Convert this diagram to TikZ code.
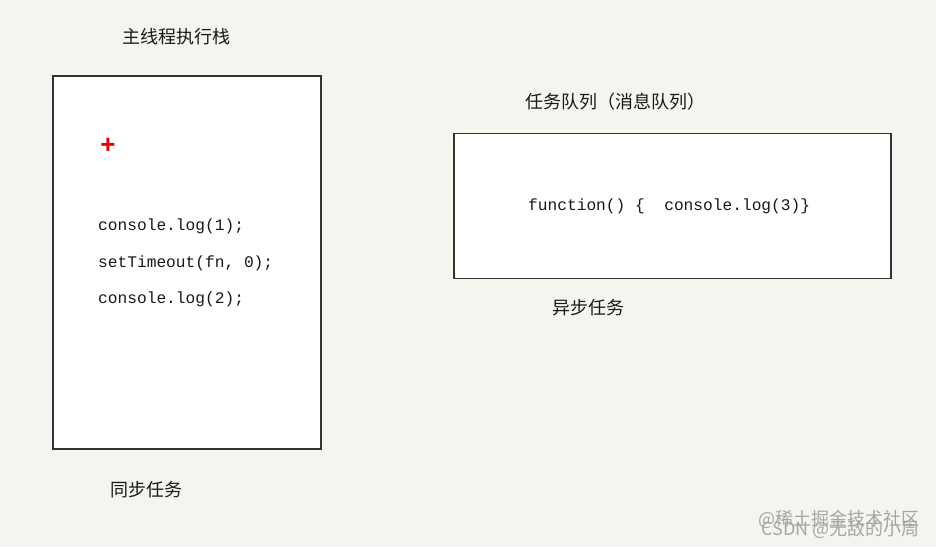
\documentclass[tikz,border=0pt]{standalone}
\usepackage{fontspec}
\setmonofont{Liberation Mono}
\newfontfamily\cjk{Noto Sans CJK SC}
\newfontfamily\plusfont{Liberation Sans}
\usetikzlibrary{positioning}

\definecolor{paper}{HTML}{F5F4EF}
\definecolor{frame}{HTML}{333333}

\begin{document}
\begin{tikzpicture}[
  x=1pt, y=-1pt,
  box/.style={draw=frame, fill=white, line width=1.4pt, inner sep=0pt},
  label/.style={font=\cjk\fontsize{18}{20}\selectfont, text=black!90, inner sep=0pt},
  code/.style={font=\ttfamily\fontsize{16.2}{19}\selectfont, text=black!90, inner sep=0pt, anchor=west},
  wmark/.style={font=\cjk\fontsize{18}{20}\selectfont, text=gray!70, inner sep=0pt, anchor=east}
]
  \fill[paper] (0,0) rectangle (936,547);
  \useasboundingbox (0,0) rectangle (936,547);

  % main thread stack
  \node[box, minimum width=268pt, minimum height=373pt] (stack) at (187,262.5) {};
  \node[label] (stacktitle) at (176,37) {主线程执行栈};
  \node[font=\plusfont\bfseries\fontsize{26}{26}\selectfont, text=red!90!black, inner sep=0pt] (plus) at (108,146) {+};
  \node[code] (log1) at (98,226) {console.log(1);};
  \node[code] (timer) at (98,263) {setTimeout(fn, 0);};
  \node[code] (log2) at (98,299) {console.log(2);};
  \node[label] (sync) at (146,490) {同步任务};

  % task queue
  \node[box, minimum width=437pt, minimum height=145pt] (queue) at (672.5,206) {};
  \node[label] (queuetitle) at (615,102) {任务队列（消息队列）};
  \node[code] (cb) at (528,206) {function() \{\ \ console.log(3)\}};
  \node[label] (async) at (588,308) {异步任务};

  % watermark
  \node[wmark] (wm1) at (920,519) {@稀土掘金技术社区};
  \node[wmark] (wm2) at (920,529) {CSDN @无敌的小周};
\end{tikzpicture}
\end{document}
